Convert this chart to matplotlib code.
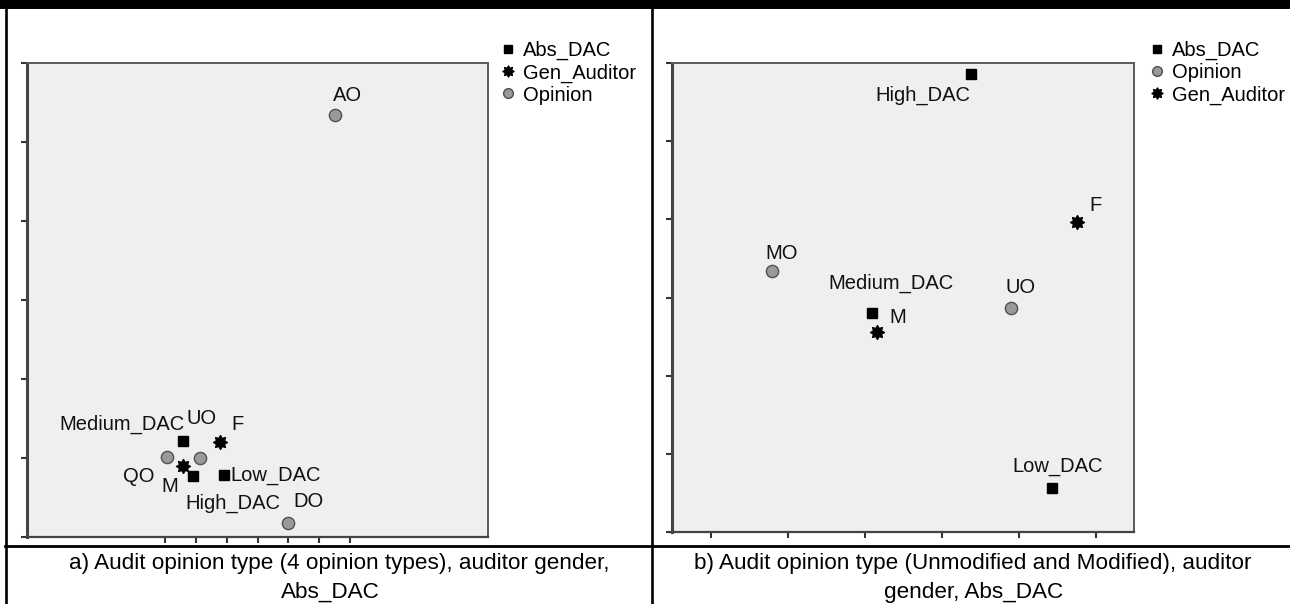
import matplotlib
matplotlib.use("Agg")
import matplotlib.pyplot as plt
from matplotlib.lines import Line2D
from matplotlib.patches import Rectangle
from matplotlib.path import Path
import numpy as np

W, H, DPI = 1290, 604, 100

# ---------------- data: panel a ----------------
a_opinion_labels = ["AO", "DO", "QO", "UO"]
a_opinion_x = [2.51, 0.98, -2.94, -1.87]
a_opinion_y = [5.34, 0.18, 1.01, 1.00]
a_dac_labels = ["High_DAC", "Medium_DAC", "Low_DAC"]
a_dac_x = [-2.10, -2.43, -1.09]
a_dac_y = [0.77, 1.22, 0.78]
a_gen_labels = ["M", "F"]
a_gen_x = [-2.43, -1.22]
a_gen_y = [0.90, 1.20]
a_xticks = [-3, -2, -1, 0, 1, 2, 3]
a_yticks = [0, 1, 2, 3, 4, 5, 6]

# ---------------- data: panel b ----------------
b_opinion_labels = ["MO", "UO"]
b_opinion_x = [-1.21, 1.90]
b_opinion_y = [3.34, 2.86]
b_dac_labels = ["High_DAC", "Medium_DAC", "Low_DAC"]
b_dac_x = [1.38, 0.09, 2.43]
b_dac_y = [5.86, 2.80, 0.56]
b_gen_labels = ["M", "F"]
b_gen_x = [0.16, 2.75]
b_gen_y = [2.56, 3.96]
b_xticks = [-2, -1, 0, 1, 2, 3]
b_yticks = [0, 1, 2, 3, 4, 5, 6]

caption_a = ["a) Audit opinion type (4 opinion types), auditor gender,", "Abs_DAC"]
caption_b = ["b) Audit opinion type (Unmodified and Modified), auditor", "gender, Abs_DAC"]

# ---------------- label placement (pixels) ----------------
a_offsets = {
    "AO": (-2, 20, "left"), "DO": (6, 21, "left"), "QO": (-13, -19, "right"),
    "UO": (-14, 40, "left"), "High_DAC": (-8, -27, "left"),
    "Medium_DAC": (2, 16, "right"), "Low_DAC": (6, 0, "left"),
    "M": (-21, -21, "left"), "F": (11, 18, "left"),
}
b_offsets = {
    "MO": (-6, 17, "left"), "UO": (-6, 21, "left"),
    "High_DAC": (-1, -21, "right"), "Medium_DAC": (19, 30, "center"),
    "Low_DAC": (5, 22, "center"), "M": (12, 14, "left"), "F": (12, 17, "left"),
}

FONT = "Liberation Sans"
FS = 14.5
plt.rcParams["font.family"] = [FONT, "DejaVu Sans"]

# cog-like star marker
n = 8
ang = np.linspace(0, 2 * np.pi, 2 * n, endpoint=False) + np.pi / 2
rad = np.where(np.arange(2 * n) % 2 == 0, 1.0, 0.62)
verts = np.column_stack([rad * np.cos(ang), rad * np.sin(ang)])
verts = np.vstack([verts, verts[:1]])
codes = [Path.MOVETO] + [Path.LINETO] * (2 * n - 1) + [Path.CLOSEPOLY]
STAR = Path(verts, codes)

SQ = dict(marker="s", ms=7.0, mfc="black", mec="black", ls="none")
CI = dict(marker="o", ms=8.8, mfc="#9a9a9a", mec="#505050", mew=1.0, ls="none")
ST = dict(marker=STAR, ms=10.0, mfc="black", mec="black", ls="none")

fig = plt.figure(figsize=(W / DPI, H / DPI), dpi=DPI)
fig.patch.set_facecolor("white")


def px_rect(x0, y0, x1, y1):
    return [x0 / W, 1 - y1 / H, (x1 - x0) / W, (y1 - y0) / H]


def setup(ax, xlim, ylim, xticks, yticks):
    ax.set_facecolor("#efefef")
    ax.set_xlim(*xlim)
    ax.set_ylim(*ylim)
    ax.set_xticks(xticks)
    ax.set_yticks(yticks)
    ax.set_xticklabels([])
    ax.set_yticklabels([])
    ax.tick_params(direction="out", length=4.0, width=1.5, color="#333333")
    for s in ["top", "right"]:
        ax.spines[s].set_color("#5a5a5a")
        ax.spines[s].set_linewidth(1.4)
    ax.spines["left"].set_color("#444444")
    ax.spines["left"].set_linewidth(2.2)
    ax.spines["bottom"].set_color("#444444")
    ax.spines["bottom"].set_linewidth(1.6)


def annotate(ax, labels, xs, ys, offsets):
    for lab, x, y in zip(labels, xs, ys):
        dx, dy, ha = offsets[lab]
        ax.annotate(lab, (x, y), xytext=(dx, dy), textcoords="offset pixels",
                    ha=ha, va="center", fontsize=FS, color="#111111")


# ---------------- panel a ----------------
axa = fig.add_axes(px_rect(27, 63, 488, 537))
setup(axa, (-7.49, 7.48), (0, 6), a_xticks, a_yticks)
axa.plot(a_dac_x, a_dac_y, **SQ)
axa.plot(a_gen_x, a_gen_y, **ST)
axa.plot(a_opinion_x, a_opinion_y, **CI)
annotate(axa, a_dac_labels, a_dac_x, a_dac_y, a_offsets)
annotate(axa, a_gen_labels, a_gen_x, a_gen_y, a_offsets)
annotate(axa, a_opinion_labels, a_opinion_x, a_opinion_y, a_offsets)

# ---------------- panel b ----------------
axb = fig.add_axes(px_rect(672, 63, 1134, 532))
setup(axb, (-2.506, 3.49), (0, 6), b_xticks, b_yticks)
axb.plot(b_dac_x, b_dac_y, **SQ)
axb.plot(b_opinion_x, b_opinion_y, **CI)
axb.plot(b_gen_x, b_gen_y, **ST)
annotate(axb, b_dac_labels, b_dac_x, b_dac_y, b_offsets)
annotate(axb, b_opinion_labels, b_opinion_x, b_opinion_y, b_offsets)
annotate(axb, b_gen_labels, b_gen_x, b_gen_y, b_offsets)

# ---------------- legends ----------------
LSQ = dict(marker="s", ms=6.0, mfc="black", mec="black", ls="none")
LCI = dict(marker="o", ms=7.0, mfc="#9a9a9a", mec="#505050", mew=1.0, ls="none")
LST = dict(marker=STAR, ms=8.0, mfc="black", mec="black", ls="none")
leg_a = [Line2D([], [], **LSQ), Line2D([], [], **LST), Line2D([], [], **LCI)]
leg_b = [Line2D([], [], **LSQ), Line2D([], [], **LCI), Line2D([], [], **LST)]
common = dict(loc="upper left", frameon=False, fontsize=FS, handlelength=0.6,
              handletextpad=0.45, labelspacing=0.15, borderpad=0, borderaxespad=0)
fig.legend(leg_a, ["Abs_DAC", "Gen_Auditor", "Opinion"],
           bbox_to_anchor=(502 / W, 1 - 41 / H), **common)
fig.legend(leg_b, ["Abs_DAC", "Opinion", "Gen_Auditor"],
           bbox_to_anchor=(1151 / W, 1 - 41 / H), **common)

# ---------------- table frame ----------------
fig.add_artist(Rectangle((0, 1 - 9 / H), 1, 9 / H, transform=fig.transFigure,
                         color="black", lw=0))
for xp in [6, 652]:
    fig.add_artist(Line2D([xp / W, xp / W], [0, 1 - 8 / H], color="black",
                          lw=1.9, transform=fig.transFigure))
fig.add_artist(Line2D([5 / W, 1], [1 - 545.5 / H] * 2, color="black",
                      lw=2.0, transform=fig.transFigure))

# ---------------- captions ----------------
CFS = 16.2
fig.text(339 / W, 1 - 569 / H, caption_a[0], ha="center", va="baseline", fontsize=CFS)
fig.text(330 / W, 1 - 598 / H, caption_a[1], ha="center", va="baseline", fontsize=CFS)
fig.text(973 / W, 1 - 569 / H, caption_b[0], ha="center", va="baseline", fontsize=CFS)
fig.text(974 / W, 1 - 598 / H, caption_b[1], ha="center", va="baseline", fontsize=CFS)

fig.savefig("out.png", dpi=DPI)
